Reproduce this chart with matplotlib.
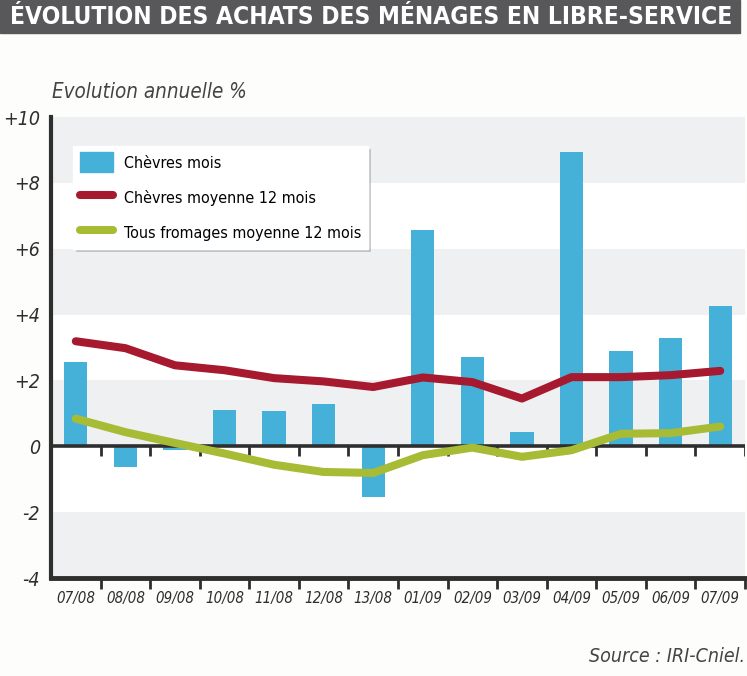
import matplotlib.pyplot as plt
import numpy as np
from matplotlib.patches import Rectangle
from matplotlib.lines import Line2D
from matplotlib.patches import Patch

# Data
months = ['07/08', '08/08', '09/08', '10/08', '11/08', '12/08', '13/08',
          '01/09', '02/09', '03/09', '04/09', '05/09', '06/09', '07/09']
chevres_mois = [2.55, -0.62, -0.12, 1.1, 1.07, 1.28, -1.54,
                6.56, 2.7, 0.43, 8.94, 2.88, 3.28, 4.27]
chevres_moy12 = [3.19, 2.98, 2.46, 2.31, 2.07, 1.97, 1.8,
                 2.09, 1.95, 1.45, 2.1, 2.1, 2.16, 2.29]
tous_moy12 = [0.84, 0.43, 0.1, -0.22, -0.56, -0.78, -0.81,
              -0.27, -0.04, -0.32, -0.12, 0.38, 0.4, 0.6]
yticks = [10, 8, 6, 4, 2, 0, -2, -4]
ytick_labels = ['+10', '+8', '+6', '+4', '+2', '0', '-2', '-4']

blue = '#45b1d8'
red = '#a6192e'
green = '#a8bb34'
dark = '#2e2e2e'
fam = ['DejaVu Sans']
cond = 'condensed'

W, H = 747, 676
fig = plt.figure(figsize=(W / 100, H / 100), dpi=100)
fig.patch.set_facecolor('#fdfdfb')

# Title band
fig.patches.append(Rectangle((0, 1 - 33 / H), 740 / W, 33 / H,
                             transform=fig.transFigure, color='#58585a', zorder=0))
title = fig.text(10 / W, 1 - 17 / H, 'ÉVOLUTION DES ACHATS DES MÉNAGES EN LIBRE-SERVICE',
                 color='white', fontsize=20, fontweight='bold', family=fam,
                 fontstretch=cond, ha='left', va='center')
# fit the title to the band width
fig.canvas.draw()
w = title.get_window_extent().width
title.set_fontsize(20 * 724 / w)

ax = fig.add_axes([51 / W, 1 - 578 / H, 694 / W, 461 / H])
ax.set_facecolor('white')
x = np.arange(len(months))
ax.set_xlim(-0.5, len(months) - 0.5)
ax.set_ylim(-4, 10)

# Alternating background bands
for lo in [8, 4, 0, -4]:
    ax.axhspan(lo, lo + 2, color='#eef0f2', zorder=0, lw=0)

ax.bar(x, chevres_mois, width=0.47, color=blue, zorder=2)
ax.axhline(0, color=dark, lw=2.6, zorder=3)
ax.vlines(np.arange(0.5, len(months) - 0.4, 1), -0.3, 0, color=dark, lw=2, zorder=3)
ax.plot(x, chevres_moy12, color=red, lw=5.8, solid_capstyle='round',
        solid_joinstyle='round', zorder=4)
ax.plot(x, tous_moy12, color=green, lw=5.8, solid_capstyle='round',
        solid_joinstyle='round', zorder=4)

# Axes styling
for s in ['top', 'right']:
    ax.spines[s].set_visible(False)
ax.spines['left'].set_color(dark)
ax.spines['left'].set_linewidth(3)
ax.spines['bottom'].set_color(dark)
ax.spines['bottom'].set_linewidth(3.5)

ax.set_yticks(yticks)
ax.set_yticklabels(ytick_labels, fontsize=14, style='italic', color=dark,
                   family=fam, fontstretch=cond)
ax.tick_params(axis='y', length=0, pad=8)

ax.set_xticks(x)
ax.set_xticklabels(months, fontsize=10.8, style='italic', color=dark,
                   family=fam, fontstretch=cond)
ax.tick_params(axis='x', which='major', length=0, pad=9)
ax.set_xticks(np.arange(0.5, len(months) - 0.4, 1), minor=True)
ax.tick_params(axis='x', which='minor', length=8, width=2, color=dark)

handles = [Patch(color=blue),
           Line2D([], [], color=red, lw=5.8, solid_capstyle='round'),
           Line2D([], [], color=green, lw=5.8, solid_capstyle='round')]
labels = ['Chèvres mois', 'Chèvres moyenne 12 mois', 'Tous fromages moyenne 12 mois']
leg = ax.legend(handles, labels, loc='upper left', bbox_to_anchor=(0.032, 0.937),
                borderaxespad=0, frameon=True, fancybox=False,
                shadow={'color': '#999999', 'alpha': 0.5, 'lw': 0},
                handlelength=2.1, handleheight=1.55, borderpad=0.4,
                labelspacing=0.95, handletextpad=0.7,
                prop={'family': fam, 'size': 11.5, 'stretch': cond})
leg.get_frame().set_edgecolor('white')
leg.get_frame().set_facecolor('white')
leg.set_zorder(6)

fig.text(52 / W, 1 - 92 / H, 'Evolution annuelle %', fontsize=14.8,
         style='italic', color='#444444', family=fam, fontstretch=cond, va='center')
fig.text(745 / W, 1 - 657 / H, 'Source : IRI-Cniel.', fontsize=14,
         style='italic', color='#444444', family=fam, fontstretch=cond,
         va='center', ha='right')

fig.savefig('out.png', dpi=100, facecolor=fig.get_facecolor())
